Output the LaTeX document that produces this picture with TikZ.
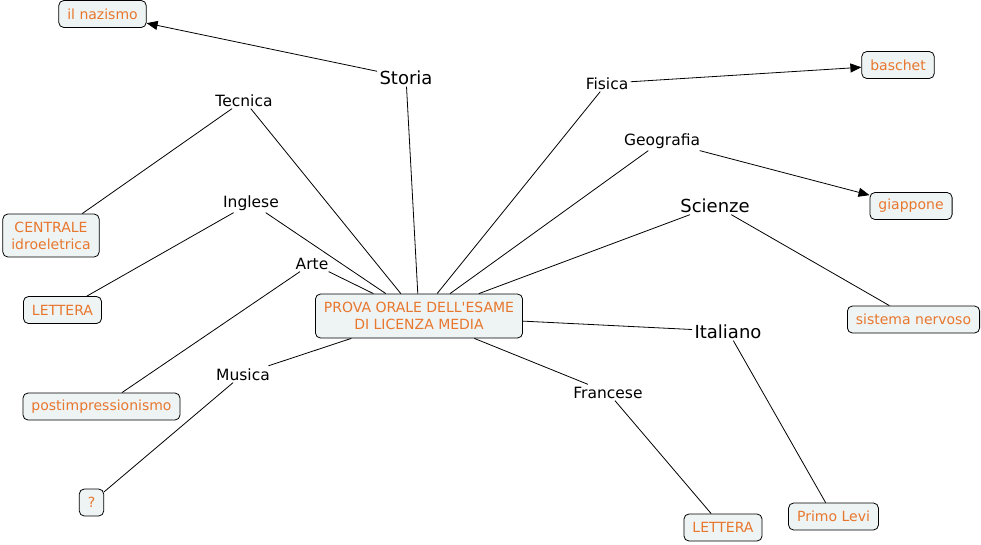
\documentclass[tikz,border=0pt]{standalone}
\usepackage{fontspec}
\setmainfont{DejaVu Sans}[Ligatures=TeXOff]
\usetikzlibrary{arrows.meta}

\definecolor{conceptorange}{RGB}{232,119,46}
\definecolor{conceptfill}{RGB}{238,243,244}

\begin{document}
\begin{tikzpicture}[
        x=1pt,
        y=-1pt,
        line width=0.8pt,
        concept/.style={
            draw,
            rounded corners=5pt,
            fill=conceptfill,
            text=conceptorange,
            font=\fontsize{14}{17}\selectfont,
            align=center,
            minimum height=27pt,
            inner xsep=8.5pt,
        },
        link/.style={
            anchor=base,
            font=\fontsize{15.5}{18}\selectfont,
            inner sep=2pt,
        },
        big link/.style={
            link,
            font=\fontsize{18}{21}\selectfont,
        },
        pil/.style={
           -{Triangle[length=11pt,width=9pt]},
        }
    ]
    \useasboundingbox[fill=white] (0,0) rectangle (981,544);

    % concepts
    \node[concept, minimum height=44pt] (prova) at (419,316) {PROVA ORALE DELL'ESAME\\DI LICENZA MEDIA};
    \node[concept] (nazismo) at (102.5,14) {il nazismo};
    \node[concept, minimum height=43pt] (centrale) at (51,235.5) {CENTRALE\\idroeletrica};
    \node[concept] (lettera1) at (62.5,310) {LETTERA};
    \node[concept] (postimp) at (101.5,406.5) {postimpressionismo};
    \node[concept] (punto) at (91.5,502.5) {?};
    \node[concept] (baschet) at (898,65) {baschet};
    \node[concept] (giappone) at (911,206) {giappone};
    \node[concept] (sistema) at (913.5,319.5) {sistema nervoso};
    \node[concept] (lettera2) at (723,527.5) {LETTERA};
    \node[concept] (levi) at (833.5,516.5) {Primo Levi};

    % linking phrases
    \node[big link] (storia) at (406,84) {Storia};
    \node[link] (tecnica) at (244,106) {Tecnica};
    \node[link] (inglese) at (251,207) {Inglese};
    \node[link] (arte) at (312,269) {Arte};
    \node[link] (musica) at (243,380) {Musica};
    \node[link] (fisica) at (607,89) {Fisica};
    \node[link] (geografia) at (662,145) {Geografia};
    \node[big link] (scienze) at (715,212) {Scienze};
    \node[big link] (italiano) at (728,338) {Italiano};
    \node[link] (francese) at (608,398) {Francese};

    % connections
    \draw (prova) -- (storia);
    \draw[pil] (storia) -- (nazismo);
    \draw (prova) -- (tecnica) -- (centrale);
    \draw (prova) -- (inglese) -- (lettera1);
    \draw (prova) -- (arte) -- (postimp);
    \draw (prova) -- (musica) -- (punto);
    \draw (prova) -- (fisica);
    \draw[pil] (fisica) -- (baschet);
    \draw (prova) -- (geografia);
    \draw[pil] (geografia) -- (giappone);
    \draw (prova) -- (scienze) -- (sistema);
    \draw (prova) -- (italiano) -- (levi);
    \draw (prova) -- (francese) -- (lettera2);
\end{tikzpicture}
\end{document}
